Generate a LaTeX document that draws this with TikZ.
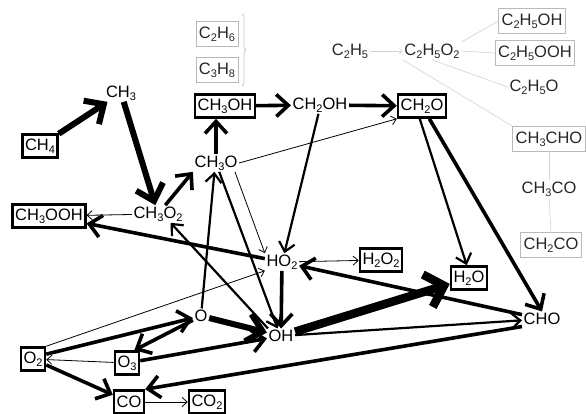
\documentclass[tikz,border=0pt]{standalone}
\usepackage{fontspec}
\setmainfont{Liberation Sans}
\usetikzlibrary{arrows.meta,decorations.pathreplacing}
\newcommand{\sbs}[1]{\raisebox{-0.3ex}{\fontsize{11}{11}\selectfont #1}}
\begin{document}
\begin{tikzpicture}[x=1pt,y=-1pt,font=\fontsize{16.5}{18}\selectfont,
  bx/.style={draw,line width=2.6pt,inner xsep=2.5pt,inner ysep=0pt,minimum height=23pt},
  gbx/.style={draw=gray!55,line width=0.8pt,inner xsep=3pt,inner ysep=0pt,minimum height=25pt,text=black!85},
  tx/.style={inner sep=1.5pt},
  gtx/.style={inner sep=1.5pt,text=black!85},
  gline/.style={draw=gray!35,line width=0.6pt},
  thinarr/.style={line width=0.8pt,-{Straight Barb[length=5pt,width=9pt]}},
  medarr/.style={line width=2.2pt,-{Straight Barb[length=9pt,width=16pt]}},
  thickarr/.style={line width=3.6pt,-{Straight Barb[length=12pt,width=22pt]}},
  vthickarr/.style={line width=6pt,-{Straight Barb[length=15pt,width=28pt]}},
  hugearr/.style={line width=8.5pt,-{Straight Barb[length=17pt,width=34pt]}}]
\useasboundingbox (0,0) rectangle (586,413);
% gray species
\node[gbx] (C2H6) at (217,34) {C\sbs{2}H\sbs{6}};
\node[gbx] (C3H8) at (217,70) {C\sbs{3}H\sbs{8}};
\draw[gray!45,line width=0.8pt,decorate,decoration={brace,amplitude=4pt}] (242,14) -- (242,86);
\node[gtx] (C2H5) at (350,51) {C\sbs{2}H\sbs{5}};
\node[gtx] (C2H5O2) at (432,51) {C\sbs{2}H\sbs{5}O\sbs{2}};
\node[gbx] (C2H5OH) at (532,21) {C\sbs{2}H\sbs{5}OH};
\node[gbx] (C2H5OOH) at (535,53) {C\sbs{2}H\sbs{5}OOH};
\node[gtx] (C2H5O) at (534,87) {C\sbs{2}H\sbs{5}O};
\node[gbx] (CH3CHO) at (549,139) {CH\sbs{3}CHO};
\node[gtx] (CH3CO) at (549,189) {CH\sbs{3}CO};
\node[gbx] (CH2CO) at (551,245) {CH\sbs{2}CO};
% main species
\node[bx] (CH3OH) at (225,106) {CH\sbs{3}OH};
\node[tx] (CH2OH) at (320,105) {CH\sbs{2}OH};
\node[bx] (CH2O) at (422,106) {CH\sbs{2}O};
\node[tx] (CH3) at (121,93) {CH\sbs{3}};
\node[bx] (CH4) at (40,146) {CH\sbs{4}};
\node[tx] (CH3O) at (216,163) {CH\sbs{3}O};
\node[tx] (CH3O2) at (158,214) {CH\sbs{3}O\sbs{2}};
\node[bx] (CH3OOH) at (49,216) {CH\sbs{3}OOH};
\node[tx] (HO2) at (282,262) {HO\sbs{2}};
\node[bx] (H2O2) at (381,260) {H\sbs{2}O\sbs{2}};
\node[bx] (H2O) at (469,278) {H\sbs{2}O};
\node[tx] (CHO) at (542,319) {CHO};
\node[tx] (O) at (201,316) {O};
\node[tx] (OH) at (281,336) {OH};
\node[bx] (O2) at (33,359) {O\sbs{2}};
\node[bx] (O3) at (127,363) {O\sbs{3}};
\node[bx] (CO) at (129,402) {CO};
\node[bx] (CO2) at (207,402) {CO\sbs{2}};
% gray connectors
\draw[gline,-{Straight Barb[length=3pt,width=5pt]}] (C2H5) -- (C2H5O2);
\draw[gline] (C2H5O2.north east) -- (C2H5OH.west);
\draw[gline] (C2H5O2.east) -- (C2H5OOH.west);
\draw[gline] (C2H5O2.south) -- (C2H5O.west);
\draw[gline] (C2H5O2.south west) -- (CH3CHO.north west);
\draw[gline] (CH3CHO.south) -- (CH3CO.north);
\draw[gline] (CH3CO.south) -- (CH2CO.north);
% connectors
\draw[vthickarr] (CH4) -- (CH3);
\draw[vthickarr] (CH3) -- (CH3O2);
\draw[thickarr] (CH3O2) -- (CH3O.south west);
\draw[thickarr] (CH3O.north) -- (CH3O.north |- CH3OH.south);
\draw[thickarr] (CH3OH) -- (CH2OH);
\draw[thickarr] (CH2OH) -- (CH2O);
\draw[thinarr] (CH3O.east) -- (CH2O.south west);
\draw[medarr] (CH2OH.-100) -- (HO2.75);
\draw[thinarr] (CH3O.-25) -- (HO2.north west);
\draw[medarr] (CH3O.-70) -- (OH.115);
\draw[medarr] (O) -- (CH3O.-100);
\draw[medarr] (OH.150) -- (CH3O2.-35);
\draw[thickarr] (HO2) -- (CH3OOH);
\draw[thinarr] (CH3O2) -- (CH3OOH);
\draw[thinarr] (HO2) -- (H2O2);
\draw[thickarr] (HO2) -- (OH);
\draw[hugearr] (OH) -- (H2O);
\draw[thickarr] (CHO) -- (HO2);
\draw[medarr] (CH2O.-100) -- (H2O.100);
\draw[thickarr] (CH2O.-60) -- (CHO.north);
\draw[medarr] (OH) -- (CHO);
\draw[thickarr] (CHO.south west) -- (CO.north east);
\draw[thickarr] (O2.20) -- (O);
\draw[thickarr] (O) -- (O3.60);
\draw[thickarr] (O3) -- (OH);
\draw[thinarr] (O3) -- (O2);
\draw[thinarr] (O2.north east) -- (HO2.south west);
\draw[thickarr] (O2) -- (CO);
\draw[thinarr] (CO) -- (CO2);
\draw[vthickarr] (O) -- (OH);
\end{tikzpicture}
\end{document}
